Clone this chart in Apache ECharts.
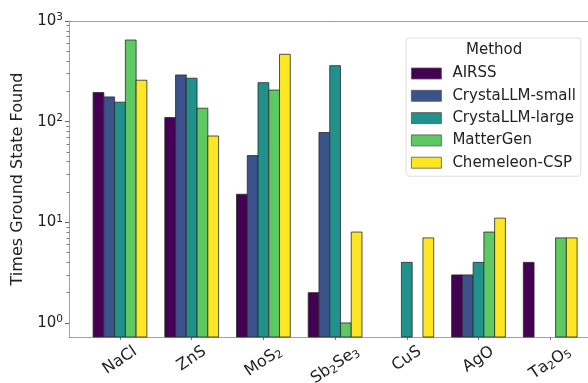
<!DOCTYPE html>
<html><head><meta charset="utf-8">
<script src="https://cdn.jsdelivr.net/npm/echarts@6/dist/echarts.min.js"></script>
<style>html,body{margin:0;padding:0;background:#fff}#c{width:588px;height:383px}</style>
</head><body><div id="c"></div>
<script>
const categories = ['NaCl', 'ZnS', 'MoS₂', 'Sb₂Se₃', 'CuS', 'AgO', 'Ta₂O₅'];
const methods = ['AIRSS', 'CrystaLLM-small', 'CrystaLLM-large', 'MatterGen', 'Chemeleon-CSP'];
const airss = [195, 110, 19, 2, null, 3, 4];
const crystallmSmall = [176, 291, 46, 78, null, 3, null];
const crystallmLarge = [156, 270, 244, 360, 4, 4, null];
const matterGen = [647, 136, 206, 1, null, 8, 7];
const chemeleon = [258, 72, 467, 8, 7, 11, 7];
const yMajorTicks = [1, 10, 100, 1000];
const yMinorTicks = [2,3,4,5,6,7,8,9,20,30,40,50,60,70,80,90,200,300,400,500,600,700,800,900];
const colors = ['#440154', '#3b528b', '#21918c', '#5ec962', '#fde725'];
const seriesValues = [airss, crystallmSmall, crystallmLarge, matterGen, chemeleon];

const chart = echarts.init(document.getElementById('c'), null, {renderer: 'canvas'});
const font = 'DejaVu Sans';
const spine = '#a0a0a0';
const yMin = 0.725, yMax = 1000;
const groupWidth = 0.75;
const nS = methods.length;
// x range: matplotlib-style margin on the left; the right side of the figure is cropped
const xMin = -0.711, xMax = 6.527;
const gridBox = {left: 69, top: 21, right: 0, bottom: 46, show: false, containLabel: false};

const series = methods.map((m, k) => ({
  name: m,
  type: 'custom',
  xAxisIndex: 0,
  yAxisIndex: 0,
  itemStyle: {color: colors[k], borderColor: '#2a2a2a', borderWidth: 0.8},
  emphasis: {disabled: true},
  encode: {x: 0, y: 1},
  renderItem: function (params, api) {
    const x = api.value(0), v = api.value(1);
    const unit = api.size([1, 1])[0];
    const bw = unit * groupWidth / nS;
    const top = api.coord([x, v]);
    const base = api.coord([x, yMin]);
    const left = top[0] - unit * groupWidth / 2 + k * bw;
    return {
      type: 'rect',
      shape: {x: left, y: top[1], width: bw, height: base[1] - top[1]},
      style: {fill: colors[k], stroke: '#2a2a2a', lineWidth: 0.8}
    };
  },
  data: seriesValues[k].map((v, i) => [i, v]).filter(d => d[1] != null)
}));

chart.setOption({
  animation: false,
  grid: [Object.assign({}, gridBox), Object.assign({}, gridBox)],
  legend: {
    data: methods,
    orient: 'vertical',
    left: 406, top: 38,
    padding: [28, 5, 6, 5],
    itemWidth: 30, itemHeight: 11, itemGap: 7.3,
    icon: 'rect',
    itemStyle: {borderWidth: 0.8, borderColor: '#555'},
    backgroundColor: '#ffffff',
    borderColor: '#dddddd', borderWidth: 1, borderRadius: 3,
    textStyle: {fontFamily: font, fontSize: 15, color: '#222', lineHeight: 15, padding: [0,0,0,6]},
    selectedMode: false
  },
  xAxis: [{
    type: 'value', min: xMin, max: xMax, position: 'bottom', gridIndex: 0,
    splitLine: {show: false},
    axisLine: {show: true, onZero: false, lineStyle: {color: spine}},
    axisTick: {show: true, length: 3, lineStyle: {color: '#777'}, customValues: categories.map((c, i) => i)},
    axisLabel: {show: false}
  }, {
    type: 'value', min: xMin, max: xMax, position: 'top', gridIndex: 0,
    splitLine: {show: false},
    axisLine: {show: true, onZero: false, lineStyle: {color: spine}},
    axisTick: {show: false},
    axisLabel: {show: false}
  }, {
    type: 'value', min: xMin, max: xMax, gridIndex: 1, show: false
  }],
  yAxis: [{
    type: 'log', logBase: 10, min: yMin, max: yMax, position: 'left', gridIndex: 0,
    name: 'Times Ground State Found', nameLocation: 'middle', nameGap: 34,
    nameTextStyle: {fontFamily: font, fontSize: 16, color: '#222'},
    splitLine: {show: false},
    axisLine: {show: true, onZero: false, lineStyle: {color: spine}},
    axisTick: {show: true, length: 4, lineStyle: {color: '#666'}, customValues: yMajorTicks},
    axisLabel: {
      customValues: yMajorTicks,
      formatter: v => '{b|10}{sup|' + Math.round(Math.log10(v)) + '}',
      color: '#222', margin: 6,
      rich: {
        b: {fontFamily: font, fontSize: 15, color: '#222', lineHeight: 18},
        sup: {fontFamily: font, fontSize: 10.5, color: '#222', lineHeight: 18, verticalAlign: 'top', padding: [0, 0, 8, 0]}
      }
    }
  }, {
    // minor ticks on the same left spine, in an identical overlaid grid
    type: 'log', logBase: 10, min: yMin, max: yMax, position: 'left', gridIndex: 1,
    splitLine: {show: false},
    axisLine: {show: false, onZero: false},
    axisTick: {show: true, length: 2.5, lineStyle: {color: '#777'}, customValues: yMinorTicks},
    axisLabel: {show: false}
  }],
  series: series
});

// rotated category tick labels, centred on the ticks
const labelFont = 16, subFont = 11;
const ctx = document.createElement('canvas').getContext('2d');
const subMap = {'₀':'0','₁':'1','₂':'2','₃':'3','₄':'4','₅':'5','₆':'6','₇':'7','₈':'8','₉':'9'};
function toRich(s) {
  let out = '', w = 0;
  for (const ch of s) {
    if (subMap[ch]) {
      out += '{s|' + subMap[ch] + '}';
      ctx.font = subFont + 'px "' + font + '"'; w += ctx.measureText(subMap[ch]).width;
    } else {
      out += '{m|' + ch + '}';
      ctx.font = labelFont + 'px "' + font + '"'; w += ctx.measureText(ch).width;
    }
  }
  return {text: out, width: w};
}
const bottomY = chart.convertToPixel({yAxisIndex: 0}, yMin);
const ang = 34 * Math.PI / 180;
const graphics = [{
  type: 'text', left: 466, top: 43, z: 100,
  style: {text: 'Method', fontFamily: font, fontSize: 15, fill: '#222'}
}];
categories.forEach((c, i) => {
  const px = chart.convertToPixel({xAxisIndex: 0}, i);
  const r = toRich(c);
  const H = r.width * Math.sin(ang) + 12 * Math.cos(ang);
  graphics.push({
    type: 'text', x: px, y: bottomY + 8 + H / 2, rotation: ang, z: 50,
    style: {
      text: r.text, align: 'center', verticalAlign: 'middle',
      rich: {
        m: {fontFamily: font, fontSize: labelFont, fill: '#222', lineHeight: 18, verticalAlign: 'middle'},
        s: {fontFamily: font, fontSize: subFont, fill: '#222', lineHeight: 11, verticalAlign: 'bottom'}
      }
    }
  });
});
chart.setOption({graphic: graphics});
</script></body></html>
